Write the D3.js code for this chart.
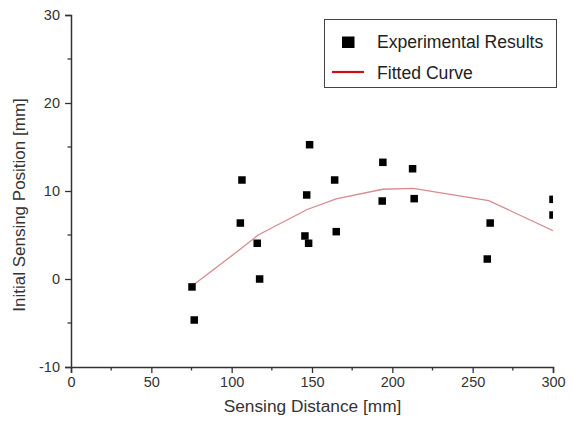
<!DOCTYPE html>
<html>
<head>
<meta charset="utf-8">
<script src="https://cdn.jsdelivr.net/npm/d3@7"></script>
<style>
  html, body { margin: 0; padding: 0; background: #fff; }
  svg { display: block; font-family: "Liberation Sans", Arial, sans-serif; }
</style>
</head>
<body>
<svg id="chart" width="572" height="425"></svg>
<script>
// Data
const expX = [75.3, 76.7, 105.4, 106.4, 115.9, 117.4, 145.6, 146.7, 147.9, 148.5, 164.1, 165.1, 193.7, 194.1, 212.6, 213.6, 259.1, 260.9, 300, 300];
const expY = [-0.9, -4.66, 6.36, 11.25, 4.06, 0, 4.89, 9.55, 4.06, 15.26, 11.25, 5.38, 8.86, 13.26, 12.53, 9.13, 2.27, 6.36, 9.05, 7.27];
const fitX = [75.3, 105.5, 116.5, 147, 165, 194, 213, 260, 300];
const fitY = [-0.8, 3.4, 5.0, 7.9, 9.1, 10.2, 10.3, 8.9, 5.5];
const xTicks = [0, 50, 100, 150, 200, 250, 300];
const yTicks = [-10, 0, 10, 20, 30];
const xMinor = [25, 75, 125, 175, 225, 275];
const yMinor = [-5, 5, 15, 25];
const xTitle = "Sensing Distance [mm]";
const yTitle = "Initial Sensing Position [mm]";
const legendLabels = ["Experimental Results", "Fitted Curve"];

const svg = d3.select("#chart");
const L = 71, R = 553, T = 15, B = 367;
const x = d3.scaleLinear().domain([0, 300]).range([L, R]);
const y = d3.scaleLinear().domain([-10, 30]).range([B, T]);
const axisColor = "#333";

svg.append("defs").append("clipPath").attr("id", "plotclip")
  .append("rect").attr("x", L).attr("y", T).attr("width", R - L).attr("height", B - T);

// Fitted curve
const line = d3.line().x(d => x(d[0])).y(d => y(d[1]));
svg.append("path")
  .datum(fitX.map((v, i) => [v, fitY[i]]))
  .attr("clip-path", "url(#plotclip)")
  .attr("d", line)
  .attr("fill", "none")
  .attr("stroke", "#d98a8f")
  .attr("stroke-width", 1.3);

// Points
const ms = 7.5;
svg.append("g").attr("clip-path", "url(#plotclip)")
  .selectAll("rect").data(expX.map((v, i) => [v, expY[i]])).join("rect")
  .attr("x", d => x(d[0]) - ms / 2)
  .attr("y", d => y(d[1]) - ms / 2)
  .attr("width", ms).attr("height", ms)
  .attr("fill", "#000");

// Axes
const fmt = d => String(d);
const xAxis = d3.axisBottom(x).tickValues(xTicks).tickSize(6).tickPadding(4).tickFormat(fmt);
const gx = svg.append("g").attr("transform", `translate(0,${B})`).call(xAxis);
const yAxis = d3.axisLeft(y).tickValues(yTicks).tickSize(6).tickPadding(4).tickFormat(fmt);
const gy = svg.append("g").attr("transform", `translate(${L},0)`).call(yAxis);
[gx, gy].forEach(g => {
  g.select(".domain").attr("stroke", axisColor).attr("stroke-width", 1.5);
  g.selectAll(".tick line").attr("stroke", axisColor).attr("stroke-width", 1.3);
  g.selectAll(".tick text").attr("fill", "#333").style("font-size", "14.5px").style("font-family", "'Liberation Sans', Arial, sans-serif");
});
gy.selectAll(".tick text").attr("dx", "-1px");
// Minor ticks
svg.append("g").selectAll("line").data(xMinor).join("line")
  .attr("x1", d => x(d)).attr("x2", d => x(d))
  .attr("y1", B).attr("y2", B + 3.5)
  .attr("stroke", axisColor).attr("stroke-width", 1.3);
svg.append("g").selectAll("line").data(yMinor).join("line")
  .attr("x1", L - 3.5).attr("x2", L)
  .attr("y1", d => y(d)).attr("y2", d => y(d))
  .attr("stroke", axisColor).attr("stroke-width", 1.3);

// Titles
svg.append("text").attr("x", 312.5).attr("y", 412)
  .attr("text-anchor", "middle").attr("fill", "#333")
  .style("font-size", "17.3px").text(xTitle);
svg.append("text").attr("transform", `translate(25,${205}) rotate(-90)`)
  .attr("text-anchor", "middle").attr("fill", "#333")
  .style("font-size", "17px").text(yTitle);

// Legend
const lg = svg.append("g");
lg.append("rect").attr("x", 324.5).attr("y", 19.5).attr("width", 232).attr("height", 68)
  .attr("fill", "#fff").attr("stroke", "#444").attr("stroke-width", 1);
lg.append("rect").attr("x", 342).attr("y", 36.5).attr("width", 12.5).attr("height", 11.5).attr("fill", "#000");
lg.append("line").attr("x1", 332).attr("x2", 364).attr("y1", 72).attr("y2", 72)
  .attr("stroke", "#d01010").attr("stroke-width", 2.2);
lg.selectAll("text").data(legendLabels).join("text")
  .attr("x", 377).attr("y", (d, i) => 47.5 + i * 31.5)
  .attr("fill", "#222").style("font-size", "17.6px").text(d => d);
</script>
</body>
</html>
